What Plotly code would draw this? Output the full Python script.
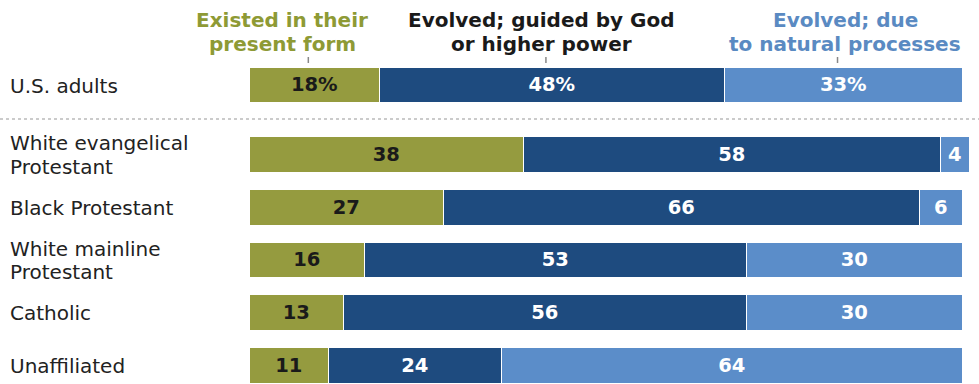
import plotly.graph_objects as go

groups = ["U.S. adults", "White evangelical|Protestant", "Black Protestant",
          "White mainline|Protestant", "Catholic", "Unaffiliated"]
existed = [18, 38, 27, 16, 13, 11]
guided = [48, 58, 66, 53, 56, 24]
natural = [33, 4, 6, 30, 30, 64]
series_names = ["Existed in their|present form",
                "Evolved; guided by God|or higher power",
                "Evolved; due|to natural processes"]

colors = ["#959B3F", "#1E4B7F", "#5B8DC9"]
header_colors = ["#8E9A35", "#1a1a1a", "#5A8AC2"]
text_colors = ["#1a1a1a", "#ffffff", "#ffffff"]

W, H = 979, 384
x0_px, px_per_unit = 250, 7.2
y0_px, row_px = 85.5, 52.7
gap = 0.32

ypos = [0] + [i + gap for i in range(1, len(groups))]

fig = go.Figure()
series = [existed, guided, natural]
for k, vals in enumerate(series):
    texts = [f"{v}%" if i == 0 else f"{v}" for i, v in enumerate(vals)]
    fig.add_trace(go.Bar(
        x=vals, y=ypos, orientation="h", width=0.68,
        marker=dict(color=colors[k], line=dict(color="white", width=1.5)),
        text=texts, textposition="inside", insidetextanchor="middle",
        textangle=0, constraintext="none",
        textfont=dict(family="DejaVu Sans", size=19.5, color=text_colors[k], weight="bold"),
        hoverinfo="skip", showlegend=False,
    ))

annotations = []
shapes = []

def py(px):
    return 1 - px / H

# category labels
for i, g in enumerate(groups):
    lines = g.split("|")
    n = len(lines)
    for j, ln in enumerate(lines):
        shift = (j - (n - 1) / 2) * -23.5
        annotations.append(dict(
            x=8 / W, xref="paper", y=ypos[i], yref="y", text=ln, showarrow=False,
            xanchor="left", yanchor="middle", yshift=shift,
            font=dict(family="DejaVu Sans", size=20, color="#222222")))

# headers
header_centers_px = [282, 541, 845]
for k, nm in enumerate(series_names):
    for j, ln in enumerate(nm.split("|")):
        annotations.append(dict(
            x=header_centers_px[k] / W, xref="paper", y=py(20 + j * 24), yref="paper",
            text=ln, showarrow=False, xanchor="center", yanchor="middle",
            font=dict(family="DejaVu Sans", size=20, color=header_colors[k], weight="bold")))

# ticks at center of U.S. adults segments
cum = 0
for k, vals in enumerate(series):
    mid = cum + vals[0] / 2
    cum += vals[0]
    shapes.append(dict(type="line", xref="x", yref="paper", x0=mid - 0.9, x1=mid - 0.9,
                       y0=py(57), y1=py(63), line=dict(color="#888888", width=1.5)))

# dotted separator
sep_y = (119 - y0_px) / row_px
shapes.append(dict(type="line", xref="paper", yref="y", x0=0, x1=1, y0=sep_y, y1=sep_y,
                   line=dict(color="#bbbbbb", width=1.5, dash="dot")))

fig.update_layout(
    barmode="stack", width=W, height=H,
    margin=dict(l=0, r=0, t=0, b=0),
    paper_bgcolor="white", plot_bgcolor="white",
    bargap=0,
    xaxis=dict(range=[-x0_px / px_per_unit, (W - x0_px) / px_per_unit], visible=False, fixedrange=True),
    yaxis=dict(range=[(H - y0_px) / row_px, -y0_px / row_px], visible=False, fixedrange=True),
    annotations=annotations, shapes=shapes,
)

fig.write_html("out.html")
